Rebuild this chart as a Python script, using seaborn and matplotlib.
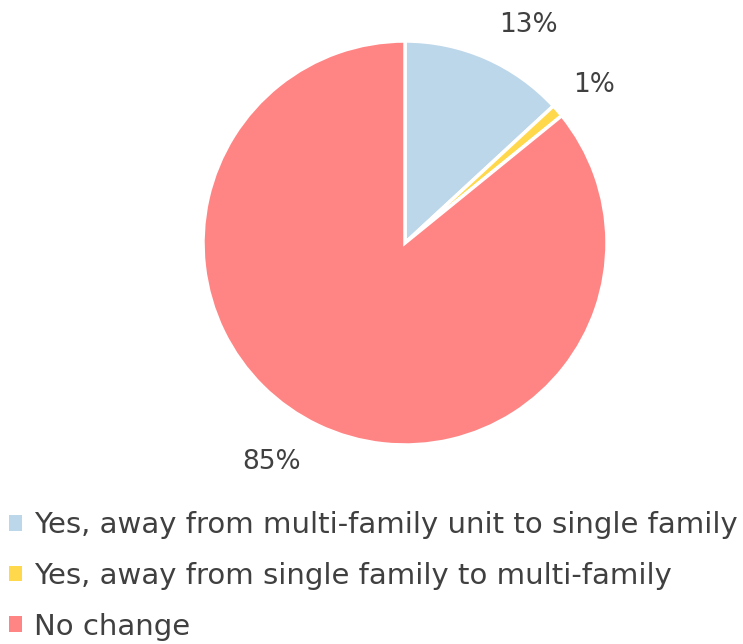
import matplotlib
matplotlib.use("Agg")
import matplotlib.pyplot as plt
import seaborn as sns
import numpy as np
from matplotlib.patches import Patch

categories = ["Yes, away from multi-family unit to single family",
              "Yes, away from single family to multi-family",
              "No change"]
values = [13, 1, 85]
pct_labels = ["13%", "1%", "85%"]
colors = ["#BDD7EA", "#FFD84C", "#FF8585"]

sns.set_theme(style="white")
plt.rcParams['font.family'] = ['DejaVu Sans']
text_color = "#404040"

fig = plt.figure(figsize=(7.43, 6.44), dpi=100)
ax = fig.add_axes([(405 - 202) / 743, (644 - 243 - 202) / 644, 404 / 743, 404 / 644])

wedges, _ = ax.pie(values, colors=colors, startangle=90, counterclock=False,
                   wedgeprops=dict(edgecolor="white", linewidth=2.5))
ax.set_aspect("equal")
ax.set_xlim(-1, 1)
ax.set_ylim(-1, 1)

# label placement (angle offset in degrees, radial distance)
label_offsets = [(6, 1.24), (1, 1.22), (6, 1.27)]
for w, lab, (doff, dist) in zip(wedges, pct_labels, label_offsets):
    mid = (w.theta1 + w.theta2) / 2 - doff
    x = dist * np.cos(np.deg2rad(mid))
    y = dist * np.sin(np.deg2rad(mid))
    ax.text(x, y, lab, ha="center", va="center", fontsize=19, color=text_color)

handles = [Patch(facecolor=c, edgecolor="none") for c in colors]
fig.legend(handles, categories, loc="upper left", bbox_to_anchor=(0.0, 0.22),
           frameon=False, fontsize=21, handlelength=0.45, handleheight=0.45,
           handletextpad=0.4, labelspacing=0.78, labelcolor=text_color,
           borderaxespad=0, borderpad=0.3)

fig.savefig("out.png", dpi=100)
